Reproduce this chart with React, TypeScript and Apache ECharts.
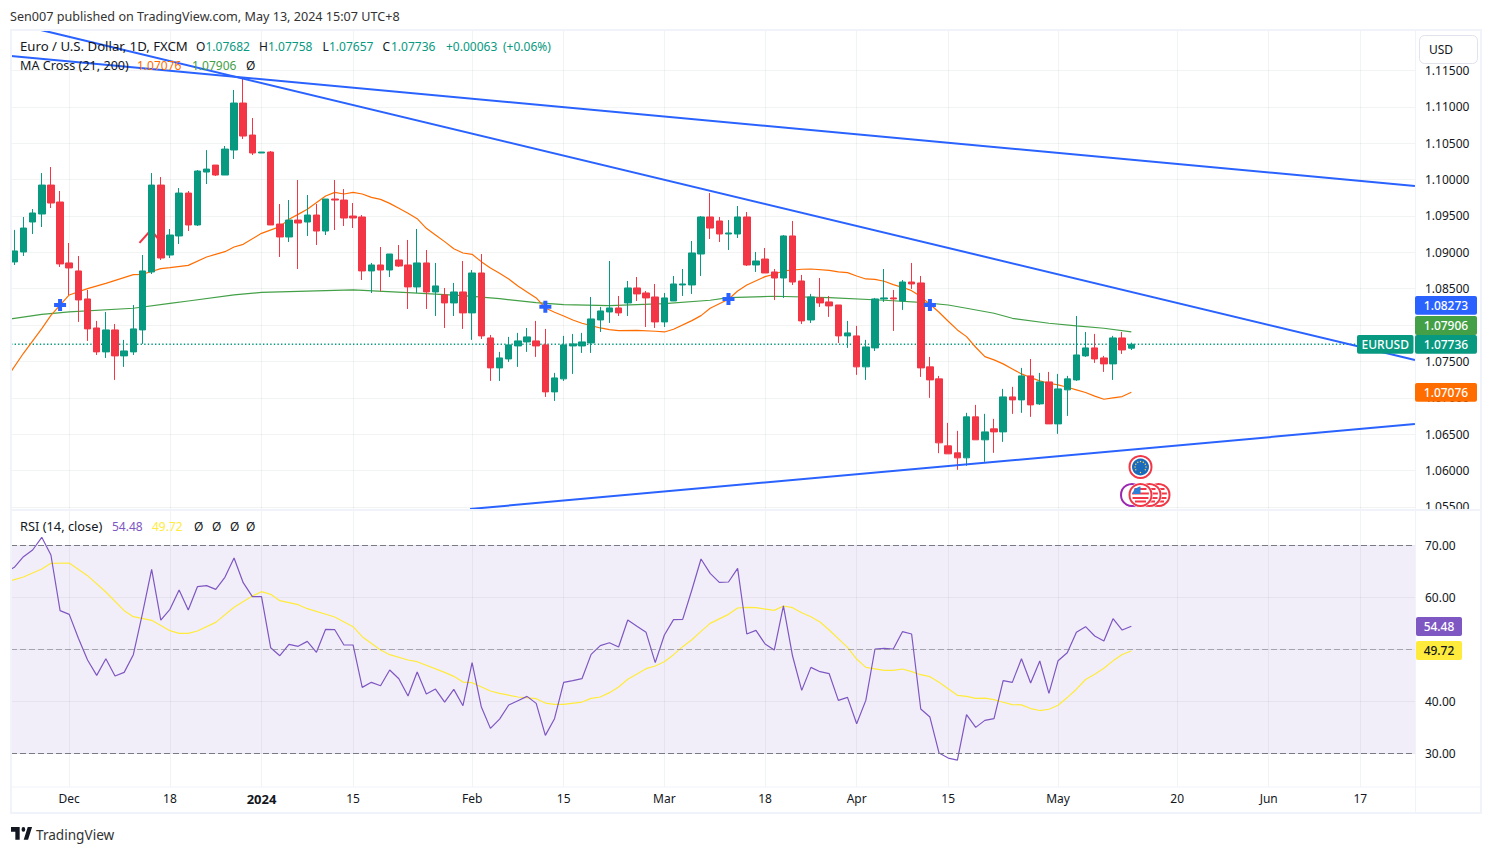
import React, { useEffect, useRef } from "react";
import * as echarts from "echarts";

const opens = [1.08868,1.09005,1.09417,1.09527,1.09925,1.09692,1.08854,1.08744,1.08359,1.0796,1.07631,1.07933,1.07576,1.07631,1.07933,1.0873,1.09925,1.08963,1.09225,1.09815,1.09376,1.10104,1.102,1.10063,1.10407,1.11053,1.10613,1.10366,1.10379,1.09389,1.09211,1.09444,1.09417,1.09513,1.09293,1.09733,1.09719,1.09499,1.09486,1.08744,1.08826,1.08757,1.08895,1.08826,1.08524,1.08854,1.08455,1.08414,1.08304,1.08455,1.08167,1.08716,1.07823,1.07411,1.07534,1.07713,1.07768,1.07782,1.07727,1.07081,1.0726,1.07713,1.07713,1.07754,1.0807,1.0818,1.08235,1.08304,1.0851,1.08441,1.08386,1.08043,1.08331,1.08551,1.08551,1.08977,1.09486,1.09431,1.09252,1.09252,1.09486,1.08826,1.08908,1.0873,1.08647,1.09225,1.08606,1.0807,1.08373,1.08318,1.08276,1.07851,1.07851,1.07425,1.07686,1.08359,1.08373,1.08331,1.08592,1.08579,1.07425,1.0726,1.06339,1.06243,1.06174,1.06738,1.06422,1.06573,1.06531,1.07012,1.06971,1.07301,1.06916,1.07218,1.06641,1.07109,1.07246,1.07576,1.07686,1.07548,1.07466,1.07823,1.07682];
const closes = [1.09019,1.09334,1.09541,1.09925,1.09678,1.0884,1.08785,1.08345,1.07947,1.07631,1.07933,1.07576,1.07644,1.07947,1.08744,1.09925,1.08922,1.09238,1.09815,1.09376,1.10118,1.10145,1.10063,1.1042,1.11053,1.10599,1.10366,1.10379,1.09376,1.09211,1.09444,1.09403,1.09513,1.09293,1.09733,1.09719,1.09472,1.09472,1.08744,1.08826,1.08757,1.08977,1.08812,1.08524,1.08854,1.08455,1.08538,1.08304,1.08455,1.08167,1.08716,1.07851,1.07411,1.07548,1.07727,1.07782,1.07837,1.07713,1.07081,1.07273,1.07727,1.07741,1.07768,1.08084,1.08194,1.08235,1.08167,1.0851,1.08428,1.08373,1.08043,1.08373,1.08565,1.08565,1.08991,1.09486,1.09334,1.09252,1.09266,1.09486,1.08826,1.08881,1.08716,1.08647,1.09225,1.08592,1.08057,1.08386,1.08304,1.08263,1.07851,1.07892,1.07425,1.07699,1.08359,1.08373,1.08359,1.08592,1.08565,1.07411,1.07246,1.0638,1.06229,1.06174,1.06738,1.06422,1.06531,1.06531,1.07012,1.06971,1.07301,1.06902,1.07218,1.06641,1.07122,1.0726,1.07589,1.07686,1.07534,1.07466,1.07823,1.07658,1.07736];
const lows = [1.08826,1.0895,1.09252,1.09348,1.09609,1.08799,1.08414,1.08043,1.07782,1.07589,1.07548,1.07246,1.07425,1.07589,1.07741,1.08702,1.08895,1.08922,1.09115,1.09293,1.09362,1.09939,1.10049,1.10063,1.10283,1.10558,1.10338,1.10366,1.09376,1.08936,1.09142,1.08771,1.09225,1.09101,1.09238,1.09307,1.09362,1.09334,1.0862,1.08441,1.08464,1.08661,1.08799,1.08221,1.08441,1.08221,1.08125,1.0796,1.08125,1.07947,1.07796,1.07809,1.07232,1.07232,1.07493,1.07425,1.07631,1.07562,1.07012,1.06957,1.07232,1.07328,1.07617,1.07617,1.07905,1.08029,1.08125,1.08125,1.08331,1.07974,1.0796,1.07974,1.08331,1.084,1.08428,1.08675,1.09183,1.09142,1.09032,1.09197,1.08812,1.0873,1.08716,1.08345,1.08373,1.08551,1.08015,1.08029,1.08249,1.08112,1.07754,1.07686,1.07315,1.07246,1.07644,1.08318,1.07919,1.08208,1.08496,1.07287,1.06999,1.06238,1.06229,1.06009,1.06064,1.06422,1.06119,1.06243,1.06394,1.06779,1.06793,1.06738,1.06902,1.06641,1.06504,1.06751,1.07232,1.07562,1.0748,1.07356,1.07246,1.07603,1.07657];
const highs = [1.09308,1.09486,1.09595,1.1009,1.10173,1.09843,1.09128,1.0895,1.08483,1.08057,1.0818,1.08015,1.07796,1.08276,1.08963,1.1009,1.10035,1.09321,1.09884,1.09843,1.10131,1.10406,1.102,1.10462,1.11232,1.11407,1.10847,1.10379,1.10393,1.09664,1.09719,1.09994,1.09788,1.09664,1.09733,1.09994,1.0987,1.09678,1.09513,1.08854,1.09073,1.08977,1.09101,1.0917,1.09321,1.09032,1.08854,1.0851,1.08579,1.08881,1.08757,1.08977,1.07864,1.07631,1.07837,1.07892,1.0796,1.08057,1.07947,1.07342,1.07851,1.07878,1.07892,1.08386,1.08249,1.08881,1.084,1.08606,1.08661,1.08469,1.08565,1.08441,1.08675,1.08771,1.09156,1.09499,1.09815,1.09486,1.09444,1.09637,1.09554,1.09005,1.0906,1.08771,1.09238,1.09431,1.08689,1.08428,1.08647,1.084,1.08276,1.08057,1.07988,1.07796,1.08373,1.08771,1.08483,1.0862,1.08854,1.08675,1.07562,1.07301,1.06655,1.06545,1.06793,1.06902,1.06779,1.0671,1.07122,1.0715,1.07411,1.07534,1.07342,1.07356,1.07328,1.07301,1.08125,1.07905,1.07878,1.07576,1.07851,1.07905,1.07758];

const maFastIdx = [-0.36,1,3,4,6,8,10,13,14,16,17,19,21,23,24,25,27,29,30,31,32,34,35,36,37,38,39,40,41,42,43,44,45,46,47,48,49,50,51,52,53,54,55,56,57,58,59,60,61,62,63,64,65,66,68,70,71,72,74,75,76,78,79,80,82,83,84,86,87,89,90,91,92,93,94,95,96,97,98,99,100,101,102,103,104,105,106,107,108,109,110,111,112,113,114,115,116,117,118,119,120,121,122];
const maFastVal = [1.0736,1.07612,1.07951,1.08134,1.08414,1.08501,1.08574,1.08693,1.08698,1.08776,1.08789,1.08821,1.08936,1.09009,1.09073,1.0911,1.09261,1.09353,1.09454,1.09522,1.09591,1.09774,1.09825,1.09802,1.09825,1.09802,1.09756,1.09728,1.09673,1.09605,1.09536,1.09463,1.0933,1.09238,1.09147,1.0905,1.08991,1.08973,1.08872,1.08785,1.08712,1.08634,1.08538,1.08455,1.08373,1.08235,1.08176,1.08125,1.0807,1.08025,1.07992,1.0796,1.07938,1.07924,1.07928,1.07915,1.07905,1.07942,1.08061,1.0813,1.08231,1.08354,1.08469,1.08551,1.08666,1.08698,1.08744,1.08767,1.08771,1.08753,1.0873,1.08721,1.08675,1.08634,1.08629,1.08602,1.08556,1.08519,1.08473,1.08391,1.08286,1.08176,1.08052,1.07933,1.07841,1.07695,1.07566,1.07521,1.07466,1.07397,1.07328,1.07278,1.07232,1.072,1.07177,1.07145,1.07109,1.07072,1.07022,1.0698,1.06999,1.07017,1.07076];
const maSlowIdx = [-0.36,3,6,13,17,19,24,27,37,43,49,53,57,60,65,71,76,78,83,89,95,99,102,104,107,109,113,116,119,122];
const maSlowVal = [1.08084,1.08148,1.0818,1.08231,1.08299,1.08331,1.08414,1.0845,1.08483,1.08446,1.08405,1.08363,1.08308,1.08281,1.08267,1.08295,1.08341,1.08377,1.08396,1.08377,1.08341,1.08313,1.08276,1.08231,1.08162,1.08093,1.08025,1.07988,1.07956,1.07906];

const rsiVal = [65.8,67.85,69.13,71.57,68.17,57.47,56.76,52.15,47.98,45.03,48.24,44.9,45.61,49.01,56.96,65.42,55.67,57.72,61.44,57.6,62.08,62.28,61.57,63.88,67.6,62.85,60.16,60.16,50.35,48.81,50.99,50.61,51.57,49.46,53.88,53.81,50.87,50.87,42.72,43.69,43.04,46.06,44.39,41.06,45.67,41.44,42.4,39.9,42.34,39.2,47.47,39.0,34.84,36.63,39.33,40.16,40.99,39.65,33.49,36.7,43.69,44.01,44.39,49.07,50.74,51.31,50.48,55.67,54.46,53.3,47.47,52.79,55.74,55.8,61.44,67.4,64.65,62.92,62.98,65.61,52.98,53.69,51.06,49.9,58.37,48.75,42.15,46.57,45.74,45.35,40.22,40.8,35.74,40.22,50.1,50.22,50.1,53.43,52.98,38.56,37.02,30.1,29.13,28.75,37.47,35.03,36.38,36.7,44.01,43.69,48.24,43.56,47.79,41.57,47.85,49.39,53.3,54.39,52.6,51.63,55.93,53.75,54.48];
const rsiLeadIdx = -0.36;
const rsiLeadVal = 65.42;
const rsiMaIdx = [-0.36,1,3,4,6,8,10,12,13,15,17,18,19,20,22,24,26,27,28,29,31,32,35,37,38,40,41,43,44,47,48,49,50,52,53,55,57,58,59,60,62,63,64,65,66,67,69,70,71,72,73,74,75,76,78,79,80,81,83,84,85,86,87,88,89,91,92,93,95,96,97,98,99,100,101,103,104,105,106,107,108,109,110,111,112,113,114,115,116,117,118,119,120,121,122];
const rsiMaVal = [63.24,63.94,65.48,66.57,66.63,64.2,61.06,57.47,56.31,55.61,53.62,53.11,53.11,53.56,55.22,58.11,60.29,61.12,60.61,59.39,58.62,57.85,56.25,54.39,52.47,49.9,49.01,47.98,47.66,45.61,44.84,43.75,43.62,42.02,41.57,40.87,40.55,39.71,39.46,39.46,39.9,40.61,40.87,41.71,42.79,44.27,46.32,46.83,47.66,49.01,50.55,51.89,53.49,55.03,56.76,57.98,58.11,58.04,57.53,58.37,58.04,57.08,56.31,55.29,53.75,50.42,48.17,46.57,45.99,45.99,46.25,45.74,45.16,44.78,43.69,41.19,41.0,40.6,40.64,40.38,39.87,39.42,39.36,38.65,38.27,38.52,39.29,40.76,42.37,44.23,45.26,46.41,47.82,49.04,49.72];

const crossIdx = [5, 58, 78, 100];
const crossVal = [1.08276, 1.08252, 1.08358, 1.08276];
const trendA = [[2.9, 1.12057], [152.97, 1.07519]];
const trendB = [[-0.36, 1.11699], [152.97, 1.09912]];
const trendC = [[49.77, 1.05471], [152.97, 1.06639]];
const redStrokeIdx = [13.67, 14.93, 15.64];
const redStrokeVal = [1.09129, 1.09307, 1.09197];

const priceTicks = [1.055,1.06,1.065,1.07,1.075,1.08,1.085,1.09,1.095,1.1,1.105,1.11,1.115];
const rsiTicks = [30, 40, 50, 60, 70];
const rsiDashed = [30, 50, 70];
const timeTickIdx = [6,17,27,37,50,60,71,82,92,102,114,127,137,147];
const timeTickText = ["Dec","18","2024","15","Feb","15","Mar","18","Apr","15","May","20","Jun","17"];

const lastClose = 1.07736;
const PRICE_MIN = 1.05457, PRICE_MAX = 1.12057, X_MIN = -0.36, X_MAX = 152.98;
const UP = "#089981", DOWN = "#f23645", BLUE = "#2962ff";
const FONT = '"Noto Sans"';
const TXT = "#131722";

echarts.graphic.registerShape("tvLogo", echarts.graphic.extendPath("M14 6H0V12H7V22H14Z M34 6H27L20.5 22H27.5Z M23 9A3 3 0 1 1 17 9A3 3 0 1 1 23 9Z", {}) as any);

function label(text: string, x: number, y: number, fill: string, size = 12, weight = "normal") {
  return { type: "text", z: 70, style: { text, x, y, fill, font: `${weight} ${size}px ${FONT}`, textVerticalAlign: "middle" } };
}
function tag(x: number, y: number, w: number, h: number, fill: string, text: string, textFill = "#fff", weight = "500") {
  return [
    { type: "rect", z: 60, shape: { x, y, width: w, height: h, r: 2 }, style: { fill } },
    { type: "text", z: 61, style: { text, x: x + w / 2, y: y + h / 2, fill: textFill, font: `${weight} 12px ${FONT}`, textAlign: "center", textVerticalAlign: "middle" } },
  ];
}
function ring(cx: number, cy: number, color: string) {
  return [
    { type: "circle", z: 40, shape: { cx, cy, r: 12.5 }, style: { fill: "#fff" } },
    { type: "circle", z: 40, shape: { cx, cy, r: 11 }, style: { fill: "#fff", stroke: color, lineWidth: 2 } },
  ];
}
function usFlag(cx: number, cy: number, color: string) {
  const r = 8.5;
  const out: any[] = [...ring(cx, cy, color), { type: "circle", z: 40, shape: { cx, cy, r }, style: { fill: "#fff" } }];
  [-6, -1.5, 3, 6.5].forEach((dy) => {
    const half = Math.sqrt(r * r - dy * dy);
    out.push({ type: "rect", z: 40, shape: { x: cx - half, y: cy + dy - 1, width: half * 2, height: 2 }, style: { fill: "#f23645" } });
  });
  out.push({ type: "polygon", z: 40, shape: { points: [[cx - 8.3, cy - 1], [cx - 6, cy - 6], [cx - 1.5, cy - 8.3], [cx, cy - 8.5], [cx, cy - 1]] }, style: { fill: "#2b7fd6" } });
  return out;
}
function euFlag(cx: number, cy: number) {
  const out: any[] = [...ring(cx, cy, DOWN), { type: "circle", z: 40, shape: { cx, cy, r: 8.5 }, style: { fill: "#1a6bbd" } }];
  for (let k = 0; k < 12; k++) {
    const a = (k / 12) * Math.PI * 2;
    out.push({ type: "circle", z: 41, shape: { cx: cx + Math.cos(a) * 5.5, cy: cy + Math.sin(a) * 5.5, r: 0.7 }, style: { fill: "#ffd54a" } });
  }
  return out;
}

export default function App() {
  const ref = useRef<HTMLDivElement>(null);
  useEffect(() => {
    const chart = echarts.init(ref.current!, undefined, { renderer: "svg" });
    const gridLine = { show: true, lineStyle: { color: "rgba(42,46,57,0.06)", width: 1 } };
    const candleData = opens.map((o, i) => [i, o, closes[i], lows[i], highs[i]]);
    const pairs = (a: number[], b: number[]) => a.map((v, i) => [v, b[i]]);
    const plain = (data: any[], color: string, width: number, z: number, extra: any = {}) => ({
      type: "line", data, xAxisIndex: 0, yAxisIndex: 0, showSymbol: false, symbol: "none", silent: true, z,
      lineStyle: { color, width, ...extra }, clip: true,
    });
    chart.setOption({
      animation: false,
      backgroundColor: "#fff",
      grid: [
        { left: 11, top: 30, width: 1404, height: 480 },
        { left: 11, top: 511, width: 1404, height: 276 },
      ],
      xAxis: [
        {
          type: "value", gridIndex: 0, min: X_MIN, max: X_MAX, axisLine: { show: false },
          axisTick: { show: false, customValues: timeTickIdx }, axisLabel: { show: false, customValues: timeTickIdx }, splitLine: gridLine,
        },
        {
          type: "value", gridIndex: 1, min: X_MIN, max: X_MAX, axisLine: { show: false },
          axisTick: { show: false, customValues: timeTickIdx }, splitLine: gridLine,
          axisLabel: {
            show: true, customValues: timeTickIdx, margin: 5, color: TXT, fontFamily: FONT, fontSize: 12, showMinLabel: true, showMaxLabel: true,
            formatter: (v: number) => {
              const t = timeTickText[timeTickIdx.indexOf(Math.round(v))] ?? "";
              return t === "2024" ? `{b|${t}}` : t;
            },
            rich: { b: { fontWeight: "bold", fontSize: 13, color: TXT, fontFamily: FONT } },
          },
        },
      ],
      yAxis: [
        {
          type: "value", gridIndex: 0, position: "right", min: PRICE_MIN, max: PRICE_MAX, scale: true, axisLine: { show: false },
          axisTick: { show: false, customValues: priceTicks }, splitLine: gridLine,
          axisLabel: { show: true, customValues: priceTicks, margin: 10, color: TXT, fontFamily: FONT, fontSize: 12, formatter: (v: number) => v.toFixed(5) },
        },
        {
          type: "value", gridIndex: 1, position: "right", min: 23.57, max: 76.63, axisLine: { show: false },
          axisTick: { show: false, customValues: rsiTicks }, splitLine: gridLine,
          axisLabel: { show: true, customValues: rsiTicks, margin: 10, color: TXT, fontFamily: FONT, fontSize: 12, formatter: (v: number) => v.toFixed(2) },
        },
      ],
      series: [
        plain([[X_MIN, lastClose], [X_MAX, lastClose]], UP, 1.4, 1, { type: [1.4, 2.2] }),
        plain(pairs(maSlowIdx, maSlowVal), "#43a047", 1.2, 2),
        plain(pairs(maFastIdx, maFastVal), "#ff6d00", 1.2, 2),
        plain(pairs(redStrokeIdx, redStrokeVal), DOWN, 2, 2),
        {
          type: "candlestick", xAxisIndex: 0, yAxisIndex: 0, data: candleData, encode: { x: 0, y: [1, 2, 3, 4] }, barWidth: 7, z: 3, silent: true,
          itemStyle: { color: UP, color0: DOWN, borderColor: UP, borderColor0: DOWN, borderWidth: 1 },
        },
        plain(trendA, BLUE, 2, 5),
        plain(trendB, BLUE, 2, 5),
        plain(trendC, BLUE, 2, 5),
        {
          type: "scatter", xAxisIndex: 0, yAxisIndex: 0, data: pairs(crossIdx, crossVal), z: 6, silent: true,
          symbol: "path://M4 0H8V4H12V8H8V12H4V8H0V4H4Z", symbolSize: 12, itemStyle: { color: BLUE, opacity: 1 },
        },
        {
          type: "line", xAxisIndex: 1, yAxisIndex: 1, data: [[rsiLeadIdx, rsiLeadVal], ...rsiVal.map((v, i) => [i, v])], showSymbol: false, symbol: "none", silent: true, z: 4,
          lineStyle: { color: "#7e57c2", width: 1.2 },
          markArea: { silent: true, itemStyle: { color: "rgba(126,87,194,0.1)" }, data: [[{ yAxis: rsiDashed[0] }, { yAxis: rsiDashed[2] }]] },
          markLine: {
            silent: true, symbol: "none", label: { show: false },
            lineStyle: { color: "#787b86", type: [6, 3], width: 1 },
            data: rsiDashed.map((v) => ({ yAxis: v, lineStyle: { color: "#787b86", type: [6, 3], width: 1, opacity: v === 50 ? 0.6 : 1 } })),
          },
        },
        {
          type: "line", xAxisIndex: 1, yAxisIndex: 1, data: pairs(rsiMaIdx, rsiMaVal), showSymbol: false, symbol: "none", silent: true, z: 3,
          lineStyle: { color: "#ffeb3b", width: 1.2 },
        },
      ],
      graphic: [
        { type: "rect", z: 50, shape: { x: 1416, y: 510, width: 64, height: 6 }, style: { fill: "#fff" } },
        { type: "rect", z: 51, shape: { x: 11, y: 30, width: 1470, height: 783 }, style: { fill: "none", stroke: "#f0f3fa", lineWidth: 2 } },
        { type: "line", z: 51, shape: { x1: 11, y1: 510, x2: 1481, y2: 510 }, style: { stroke: "#f0f3fa", lineWidth: 2 } },
        { type: "line", z: 51, shape: { x1: 1415.5, y1: 30, x2: 1415.5, y2: 813 }, style: { stroke: "#f0f3fa", lineWidth: 1 } },
        { type: "line", z: 51, shape: { x1: 11, y1: 787, x2: 1481, y2: 787 }, style: { stroke: "#f0f3fa", lineWidth: 1 } },

        label("Sen007 published on TradingView.com, May 13, 2024 15:07 UTC+8", 10, 16, "#333333", 12.6),
        label("Euro / U.S. Dollar, 1D, FXCM", 20, 46, TXT, 13.2),
        label("O", 196, 46, TXT), label("1.07682", 205.5, 46, UP),
        label("H", 259, 46, TXT), label("1.07758", 268, 46, UP),
        label("L", 322.5, 46, TXT), label("1.07657", 329, 46, UP),
        label("C", 382.5, 46, TXT), label("1.07736", 391, 46, UP),
        label("+0.00063", 446, 46, UP), label("(+0.06%)", 503, 46, UP),
        label("MA Cross (21, 200)", 20, 65, TXT, 12.6),
        label("1.07076", 137, 65, "#ff6d00"), label("1.07906", 192, 65, "#43a047"), label("Ø", 246, 65, TXT),
        label("RSI (14, close)", 20, 526, TXT, 12.8),
        label("54.48", 112, 526, "#7e57c2"), label("49.72", 152, 526, "#ffeb3b"),
        label("Ø", 194, 526, TXT), label("Ø", 212, 526, TXT), label("Ø", 230, 526, TXT), label("Ø", 246, 526, TXT),

        { type: "rect", z: 55, shape: { x: 1419.5, y: 35.5, width: 58, height: 28, r: 5 }, style: { fill: "#fff", stroke: "#e0e3eb", lineWidth: 1 } },
        { type: "text", z: 56, style: { text: "USD", x: 1429, y: 49.5, fill: TXT, font: `12px ${FONT}`, textVerticalAlign: "middle" } },

        ...tag(1415, 296, 62, 18.7, BLUE, "1.08273"),
        ...tag(1415, 316, 62, 19, "#43a047", "1.07906"),
        ...tag(1415, 335, 62, 18.7, UP, "1.07736"),
        ...tag(1357, 335, 56.5, 18.7, UP, "EURUSD"),
        ...tag(1415, 383, 62, 18.7, "#ff6d00", "1.07076"),
        ...tag(1416, 617, 46, 19, "#7e57c2", "54.48"),
        ...tag(1416, 641, 46, 19, "#ffeb3b", "49.72", TXT),

        ...euFlag(1140.5, 467),
        ...ring(1132, 495, "#9c27b0"),
        ...usFlag(1158.5, 495, DOWN),
        ...usFlag(1149.5, 495, DOWN),
        ...usFlag(1140.5, 495, DOWN),

        { type: "tvLogo", z: 70, x: 11, y: 822.2, scaleX: 0.62, scaleY: 0.8, style: { fill: "#131722" } },
        label("TradingView", 36, 834, "#333333", 13.6),
      ],
    });
    return () => chart.dispose();
  }, []);
  return <div ref={ref} style={{ position: "fixed", left: 0, top: 0, width: 1492, height: 853, background: "#fff" }} />;
}
